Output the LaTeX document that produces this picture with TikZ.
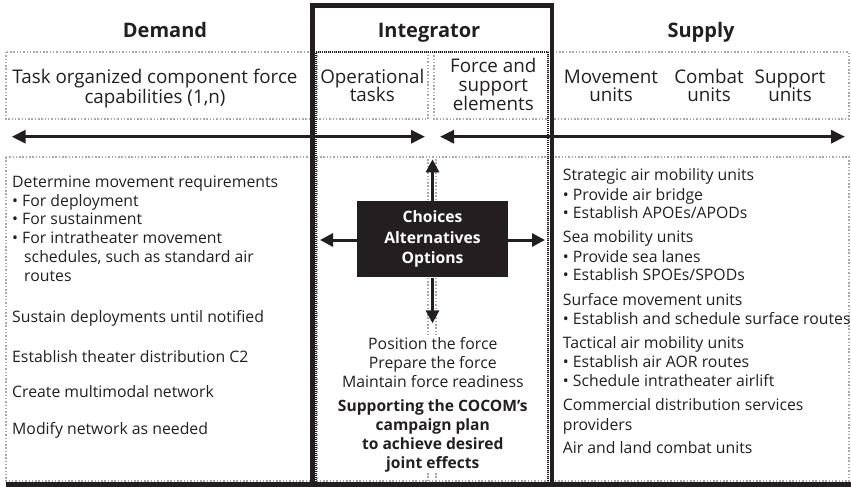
\documentclass[tikz,border=0pt]{standalone}
\usepackage{fontspec}
\setmainfont{Open Sans}
\usetikzlibrary{arrows.meta}
\definecolor{ink}{HTML}{231F20}
\definecolor{dotgray}{HTML}{A7A9AC}

\begin{document}
\begin{tikzpicture}[x=1pt,y=-1pt,
  txt/.style={inner sep=0pt,text=ink,font=\fontsize{15.8}{19}\selectfont},
  toptxt/.style={inner sep=0pt,text=ink,font=\fontsize{18.8}{20}\selectfont},
  boldtxt/.style={inner sep=0pt,text=ink,font=\bfseries\fontsize{15.6}{19}\selectfont},
  heading/.style={inner sep=0pt,text=ink,font=\bfseries\fontsize{20}{22}\selectfont},
  dotbox/.style={draw=dotgray,line width=1.5pt,dash pattern=on 1.5pt off 1.8pt},
  blackdots/.style={draw=ink,line width=1.5pt,dash pattern=on 1pt off 1pt},
  frame/.style={draw=ink,line width=4.5pt},
  twoway/.style={draw=ink,line width=3pt,{Triangle[length=14pt,width=13pt]}-{Triangle[length=14pt,width=13pt]}},
  oneway/.style={draw=ink,line width=3pt,-{Triangle[length=13pt,width=13pt]}}]

  \useasboundingbox (0,0) rectangle (851,487);

  % dotted boxes
  \draw[dotbox] (6,52) rectangle (313,119);
  \draw[dotbox] (317,52) rectangle (428,119);
  \draw[dotbox] (434,52) rectangle (548,119);
  \draw[dotbox] (552,52) rectangle (849,119);
  \draw[dotbox] (6,157) rectangle (313,481);
  \draw[dotbox] (317,157) rectangle (548,481);
  \draw[dotbox] (552,157) rectangle (849,481);
  \draw[dotbox] (428,159) -- (428,336) (436,159) -- (436,336);
  \draw[dotbox] (428,473) -- (428,481) (436,473) -- (436,481);
  \draw[blackdots] (316,482) -- (316,52) -- (548,52) -- (548,482);

  % integrator frame and base line
  \draw[frame] (312.5,487) -- (312.5,5.3) -- (552,5.3) -- (552,487);
  \draw[frame,line width=5pt] (6,484.5) -- (851,484.5);

  % headings
  \node[heading,anchor=base] (demand) at (165,37.3) {Demand};
  \node[heading,anchor=base] (integ) at (429,37.3) {Integrator};
  \node[heading,anchor=base] (supply) at (701,37.3) {Supply};

  % top row
  \node[toptxt,anchor=base] (task1) at (155,83.3) {Task organized component force};
  \node[toptxt,anchor=base] (task2) at (155,103) {capabilities (1,n)};
  \node[toptxt,anchor=base] (op1) at (372.3,83.3) {Operational};
  \node[toptxt,anchor=base] (op2) at (372.3,101.5) {tasks};
  \node[toptxt,anchor=base] (fs1) at (493.3,72.7) {Force and};
  \node[toptxt,anchor=base] (fs2) at (493.3,91) {support};
  \node[toptxt,anchor=base] (fs3) at (493.3,110) {elements};
  \foreach \xx/\name/\lbl in {611/mov/Movement,709/com/Combat,790/sup/Support}{
    \node[toptxt,anchor=base] (\name1) at (\xx,83.3) {\lbl};
    \node[toptxt,anchor=base] (\name2) at (\xx,101.7) {units};
  }

  % arrows between columns
  \coordinate (dl) at (11.7,136.7);
  \coordinate (dr) at (425,136.7);
  \coordinate (sl) at (440,136.7);
  \coordinate (sr) at (845,136.7);
  \draw[twoway] (dl) -- (dr);
  \draw[twoway] (sl) -- (sr);

  % choices box
  \node[fill=ink,text=white,font=\bfseries\fontsize{15.7}{20.5}\selectfont,align=center,
    minimum width=151pt,minimum height=76.6pt,inner sep=0pt] (choice) at (432.5,239) {Choices\\Alternatives\\Options};
  \coordinate (cu) at (432.5,159.3);
  \coordinate (cd) at (432.5,323.3);
  \coordinate (cl) at (320,240);
  \coordinate (cr) at (545,240);
  \draw[oneway] (choice.north) -- (cu);
  \draw[oneway] (choice.south) -- (cd);
  \draw[oneway] (choice.west |- cl) -- (cl);
  \draw[oneway] (choice.east |- cr) -- (cr);

  % integrator text
  \foreach \yy/\lbl [count=\i] in {349.3/{Position the force},368.3/{Prepare the force},387.3/{Maintain force readiness}}
    \node[txt,anchor=base] (pos\i) at (432.8,\yy) {\lbl};
  \foreach \yy/\lbl [count=\i] in {411.7/{Supporting the COCOM’s},430.5/{campaign plan},449.3/{to achieve desired},468.3/{joint effects}}
    \node[boldtxt,anchor=base] (aim\i) at (432.8,\yy) {\lbl};

  % demand text
  \foreach \xx/\yy/\lbl [count=\i] in {
    12/187/{Determine movement requirements},
    12/206/{• For deployment},
    12/224/{• For sustainment},
    12/243/{• For intratheater movement},
    24/262/{schedules, such as standard air},
    24/281/{routes},
    12/322/{Sustain deployments until notified},
    12/362/{Establish theater distribution C2},
    12/397/{Create multimodal network},
    12/434/{Modify network as needed}}
    \node[txt,anchor=base west] (dem\i) at (\xx,\yy) {\lbl};

  % supply text
  \foreach \yy/\lbl [count=\i] in {
    180/{Strategic air mobility units},
    200/{• Provide air bridge},
    218.3/{• Establish APOEs/APODs},
    242.7/{Sea mobility units},
    262.7/{• Provide sea lanes},
    280.7/{• Establish SPOEs/SPODs},
    305/{Surface movement units},
    324/{• Establish and schedule surface routes},
    348.3/{Tactical air mobility units},
    367.3/{• Establish air AOR routes},
    386.7/{• Schedule intratheater airlift},
    410.7/{Commercial distribution services},
    430/{providers},
    453.3/{Air and land combat units}}
    \node[txt,anchor=base west] (sup\i) at (562.7,\yy) {\lbl};
\end{tikzpicture}
\end{document}
